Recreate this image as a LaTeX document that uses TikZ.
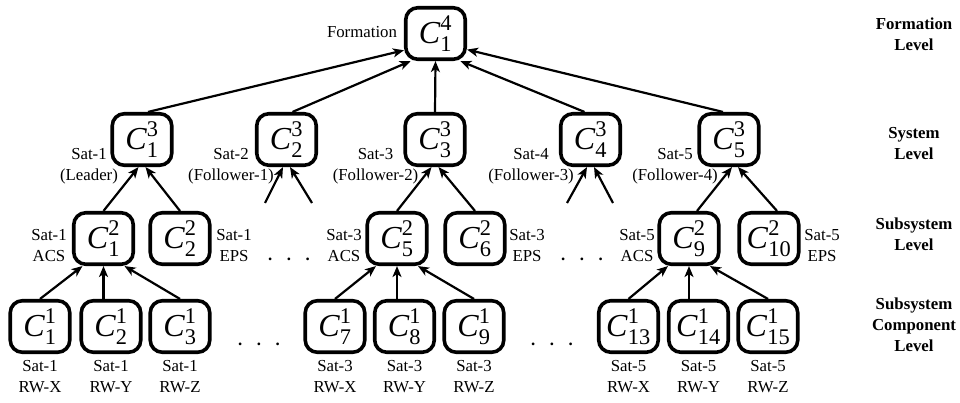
\RequirePackage{fix-cm}
\documentclass[tikz,border=0pt]{standalone}
\usepackage{amsmath}
\usepackage{fontspec}
\setmainfont{Liberation Serif}
\usetikzlibrary{arrows.meta}
\newcommand{\Cc}[2]{{\fontsize{32}{32}\selectfont$\text{\textit{C}}^{\text{#1}}_{\text{#2}}$}}
\newcommand{\threedots}{\textbf{.}\hspace{14.6pt}\textbf{.}\hspace{14.6pt}\textbf{.}}
\begin{document}
\begin{tikzpicture}[x=1pt,y=-1pt,
  box/.style={draw, line width=3.6pt, rounded corners=12pt, minimum width=59.5pt, minimum height=51.5pt, inner sep=0pt},
  arr/.style={line width=2.2pt, -{Stealth[length=11pt,width=9pt,inset=3pt]}},
  lbl/.style={align=center, font=\fontsize{16.8}{21}\selectfont, inner sep=0pt},
  lvl/.style={align=center, font=\fontsize{16.8}{21}\selectfont\bfseries, inner sep=0pt},
  dots/.style={anchor=base, inner sep=0pt, font=\fontsize{16.8}{21}\selectfont},
]
\useasboundingbox (0,0) rectangle (960,403);
% top
\node[box] (t) at (435.5,33.5) {\Cc{4}{1}};
% system level
\node[box] (s1) at (142,139.5) {\Cc{3}{1}};
\node[box] (s2) at (286.5,139.5) {\Cc{3}{2}};
\node[box] (s3) at (435,139.5) {\Cc{3}{3}};
\node[box] (s4) at (590.5,139.5) {\Cc{3}{4}};
\node[box] (s5) at (729,139.5) {\Cc{3}{5}};
% subsystem level
\node[box] (b1) at (103.5,238.5) {\Cc{2}{1}};
\node[box] (b2) at (180,238.5) {\Cc{2}{2}};
\node[box] (b5) at (397,238.5) {\Cc{2}{5}};
\node[box] (b6) at (475,238.5) {\Cc{2}{6}};
\node[box] (b9) at (689,238.5) {\Cc{2}{9}};
\node[box] (b10) at (769,238.5) {\Cc{2}{10}};
% component level
\node[box] (c1) at (40,326.5) {\Cc{1}{1}};
\node[box] (c2) at (111,326.5) {\Cc{1}{2}};
\node[box] (c3) at (180,326.5) {\Cc{1}{3}};
\node[box] (c7) at (335,326.5) {\Cc{1}{7}};
\node[box] (c8) at (404.5,326.5) {\Cc{1}{8}};
\node[box] (c9) at (474,326.5) {\Cc{1}{9}};
\node[box] (c13) at (628.5,326.5) {\Cc{1}{13}};
\node[box] (c14) at (698.5,326.5) {\Cc{1}{14}};
\node[box] (c15) at (768,326.5) {\Cc{1}{15}};
% free ends
\coordinate (f2a) at (265,203);
\coordinate (f2b) at (312,203);
\coordinate (f4a) at (567,203);
\coordinate (f4b) at (613,203);
% top arrows
\draw[arr] ([xshift=6]s1.north) -- (t.208);
\draw[arr] ([xshift=6]s2.north) -- (t.228);
\draw[arr] (s3.north) -- (t.south);
\draw[arr] ([xshift=-6]s4.north) -- (t.312);
\draw[arr] ([xshift=-6]s5.north) -- (t.333);
% system arrows
\draw[arr] (b1.north) -- ([xshift=-3.5]s1.south);
\draw[arr] (b2.north) -- ([xshift=3.5]s1.south);
\draw[arr] (f2a) -- ([xshift=-3.5]s2.south);
\draw[arr] (f2b) -- ([xshift=3.5]s2.south);
\draw[arr] (b5.north) -- ([xshift=-3.5]s3.south);
\draw[arr] (b6.north) -- ([xshift=3.5]s3.south);
\draw[arr] (f4a) -- ([xshift=-3.5]s4.south);
\draw[arr] (f4b) -- ([xshift=3.5]s4.south);
\draw[arr] ([xshift=8]b9.north) -- ([xshift=3]s5.south);
\draw[arr] ([xshift=8]b10.north) -- ([xshift=9]s5.south);
% subsystem arrows
\draw[arr] (c1.north) -- ([xshift=-21]b1.south);
\draw[arr] (b1.south |- c2.north) -- (b1.south);
\draw[arr] (c3.north) -- ([xshift=21]b1.south);
\draw[arr] (c7.north) -- ([xshift=-21]b5.south);
\draw[arr] (b5.south |- c8.north) -- (b5.south);
\draw[arr] (c9.north) -- ([xshift=21]b5.south);
\draw[arr] (c13.north) -- ([xshift=-21]b9.south);
\draw[arr] (b9.south |- c14.north) -- (b9.south);
\draw[arr] (c15.north) -- ([xshift=21]b9.south);
% labels
\node[lbl] (lf) at (362,32) {Formation};
\node[lbl] (ls1) at (89,166) {Sat-1\\(Leader)};
\node[lbl] (ls2) at (231,166) {Sat-2\\(Follower-1)};
\node[lbl] (ls3) at (375.5,166) {Sat-3\\(Follower-2)};
\node[lbl] (ls4) at (531,166) {Sat-4\\(Follower-3)};
\node[lbl] (ls5) at (675,166) {Sat-5\\(Follower-4)};
\node[lbl] (lb1) at (49,246) {Sat-1\\ACS};
\node[lbl] (lb2) at (234,246) {Sat-1\\EPS};
\node[lbl] (lb5) at (344,246) {Sat-3\\ACS};
\node[lbl] (lb6) at (527,246) {Sat-3\\EPS};
\node[lbl] (lb9) at (637,246) {Sat-5\\ACS};
\node[lbl] (lb10) at (822,246) {Sat-5\\EPS};
\node[lbl] (lc1) at (40,377) {Sat-1\\RW-X};
\node[lbl] (lc2) at (111,377) {Sat-1\\RW-Y};
\node[lbl] (lc3) at (180,377) {Sat-1\\RW-Z};
\node[lbl] (lc7) at (335,377) {Sat-3\\RW-X};
\node[lbl] (lc8) at (404.5,377) {Sat-3\\RW-Y};
\node[lbl] (lc9) at (474,377) {Sat-3\\RW-Z};
\node[lbl] (lc13) at (628.5,377) {Sat-5\\RW-X};
\node[lbl] (lc14) at (698.5,377) {Sat-5\\RW-Y};
\node[lbl] (lc15) at (768,377) {Sat-5\\RW-Z};
% level labels
\node[lvl] (v1) at (914,34) {Formation\\Level};
\node[lvl] (v2) at (914,143.5) {System\\Level};
\node[lvl] (v3) at (914,234) {Subsystem\\Level};
\node[lvl] (v4) at (914,325) {Subsystem\\Component\\Level};
% dots
\node[dots] (d1) at (289,260) {\threedots};
\node[dots] (d2) at (582,260) {\threedots};
\node[dots] (d3) at (259,345) {\threedots};
\node[dots] (d4) at (552,345) {\threedots};
\end{tikzpicture}
\end{document}
